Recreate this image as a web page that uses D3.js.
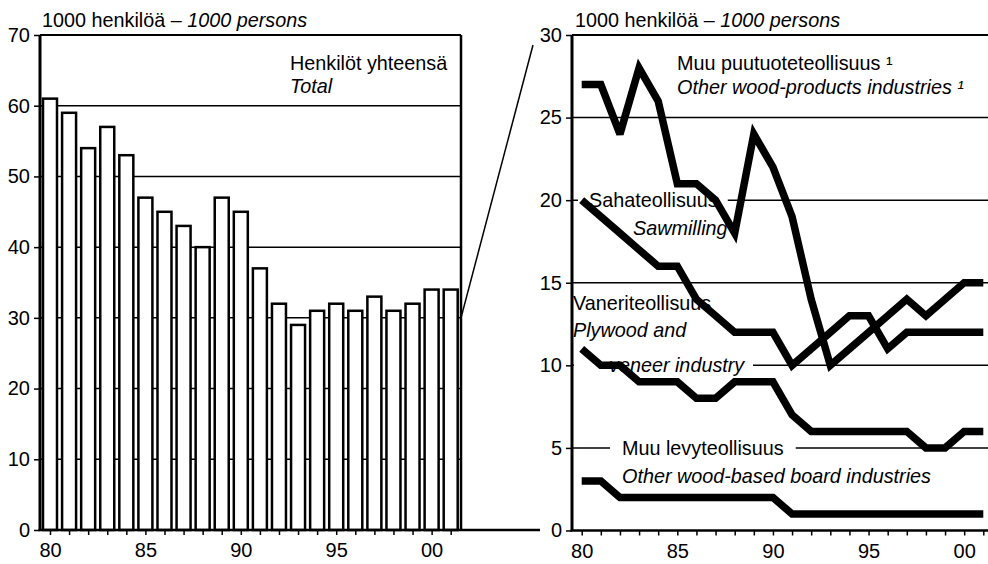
<!DOCTYPE html>
<html><head><meta charset="utf-8">
<script src="https://cdn.jsdelivr.net/npm/d3@7"></script>
<style>
html,body{margin:0;padding:0;background:#fff;}
svg{display:block;}
text{font-family:"Liberation Sans",Arial,sans-serif;fill:#000;}
</style></head>
<body>
<svg id="chart" width="988" height="564"></svg>
<script>
// ---- data ----
const years = d3.range(1980, 2002);
const totalPersons = [61,59,54,57,53,47,45,43,40,47,45,37,32,29,31,32,31,33,31,32,34,34];
const otherWoodProducts = [27,27,24,28,26,21,21,20,18,24,22,19,14,10,11,12,13,14,13,14,15,15];
const sawmilling = [20,19,18,17,16,16,14,13,12,12,12,10,11,12,13,13,11,12,12,12,12,12];
const plywood = [11,10,10,9,9,9,8,8,9,9,9,7,6,6,6,6,6,6,5,5,6,6];
const otherBoard = [3,3,2,2,2,2,2,2,2,2,2,1,1,1,1,1,1,1,1,1,1,1];
const leftTicks = [0,10,20,30,40,50,60,70];
const rightTicks = [0,5,10,15,20,25,30];
const xTickLabels = {1980:"80",1985:"85",1990:"90",1995:"95",2000:"00"};

const svg = d3.select("#chart");
const FS = 19.8;
const TFS = 20;

// ---- scales ----
const xL = d3.scaleLinear().domain([1980,2001]).range([50,450.7]);
const yL = d3.scaleLinear().domain([0,70]).range([530,35]);
const xR = d3.scaleLinear().domain([1980,2001]).range([581.7,983.3]);
const yR = d3.scaleLinear().domain([0,30]).range([530.5,35]);
const L0 = 40, L1 = 461, R0 = 572, R1 = 988;

// ---- left chart ----
const gL = svg.append("g");
gL.selectAll("line.grid").data(leftTicks.filter(t=>t>0&&t<70)).enter().append("line")
  .attr("x1",L0).attr("x2",L1).attr("y1",d=>yL(d)).attr("y2",d=>yL(d))
  .attr("stroke","#000").attr("stroke-width",1.5);
gL.append("line").attr("x1",L0).attr("x2",L1).attr("y1",yL(70)).attr("y2",yL(70)).attr("stroke","#000").attr("stroke-width",2);
gL.append("line").attr("x1",L1).attr("x2",L1).attr("y1",yL(70)).attr("y2",yL(0)).attr("stroke","#000").attr("stroke-width",2.5);
const bw = 14;
gL.selectAll("rect.bar").data(years).enter().append("rect")
  .attr("x",(d)=>xL(d)-bw/2).attr("width",bw)
  .attr("y",(d,i)=>yL(totalPersons[i])).attr("height",(d,i)=>yL(0)-yL(totalPersons[i]))
  .attr("fill","#fff").attr("stroke","#000").attr("stroke-width",2.5);
const axLY = d3.axisLeft(yL).tickValues(leftTicks).tickSize(6).tickPadding(4);
const gAxLY = gL.append("g").attr("transform",`translate(${L0},0)`).call(axLY);
const axLX = d3.axisBottom(xL).tickValues(years).tickSize(5).tickPadding(8).tickFormat(d=>xTickLabels[d]||"");
const gAxLX = gL.append("g").attr("transform",`translate(0,${yL(0)})`).call(axLX);
[gAxLY,gAxLX].forEach(g=>{
  g.select(".domain").remove();
  g.selectAll("line").attr("stroke","#000").attr("stroke-width",1.5);
  g.selectAll("text").style("font-size",TFS+"px").attr("fill","#000");
});
gL.append("line").attr("x1",L0).attr("x2",L0).attr("y1",yL(70)).attr("y2",yL(0)).attr("stroke","#000").attr("stroke-width",3);
gL.append("line").attr("x1",L0-1.5).attr("x2",540).attr("y1",yL(0)).attr("y2",yL(0)).attr("stroke","#000").attr("stroke-width",2.5);
gL.append("line").attr("x1",L1).attr("y1",yL(30)).attr("x2",533).attr("y2",45).attr("stroke","#000").attr("stroke-width",1.5);

function title(x,y){
  const t = svg.append("text").attr("x",x).attr("y",y).style("font-size",FS+"px");
  t.append("tspan").text("1000 henkilöä – ");
  t.append("tspan").style("font-style","italic").text("1000 persons");
}
title(42,27);
svg.append("text").attr("x",290).attr("y",70).style("font-size",FS+"px").text("Henkilöt yhteensä");
svg.append("text").attr("x",290).attr("y",93).style("font-size",FS+"px").style("font-style","italic").text("Total");

// ---- right chart ----
const gR = svg.append("g");
gR.selectAll("line.grid").data(rightTicks.filter(t=>t>0&&t<30)).enter().append("line")
  .attr("x1",R0).attr("x2",R1).attr("y1",d=>yR(d)).attr("y2",d=>yR(d))
  .attr("stroke","#000").attr("stroke-width",1.5);
gR.append("line").attr("x1",R0).attr("x2",R1).attr("y1",yR(30)).attr("y2",yR(30)).attr("stroke","#000").attr("stroke-width",2);
const axRY = d3.axisLeft(yR).tickValues(rightTicks).tickSize(6).tickPadding(4);
const gAxRY = gR.append("g").attr("transform",`translate(${R0},0)`).call(axRY);
const axRX = d3.axisBottom(xR).tickValues(years).tickSize(5).tickPadding(8).tickFormat(d=>xTickLabels[d]||"");
const gAxRX = gR.append("g").attr("transform",`translate(0,${yR(0)})`).call(axRX);
[gAxRY,gAxRX].forEach(g=>{
  g.select(".domain").remove();
  g.selectAll("line").attr("stroke","#000").attr("stroke-width",1.5);
  g.selectAll("text").style("font-size",TFS+"px").attr("fill","#000");
});
gR.append("line").attr("x1",R0).attr("x2",R0).attr("y1",yR(30)).attr("y2",yR(0)).attr("stroke","#000").attr("stroke-width",3);
gR.append("line").attr("x1",R0-1.5).attr("x2",R1).attr("y1",yR(0)).attr("y2",yR(0)).attr("stroke","#000").attr("stroke-width",2.5);

title(575,27);

const bgLayer = gR.append("g");
const txtLayer = gR.append("g");
function label(x,y,str,italic,knock){
  const t = txtLayer.append("text").attr("x",x).attr("y",y).style("font-size",FS+"px").text(str);
  if(italic) t.style("font-style","italic");
  if(knock){
    const b = t.node().getBBox();
    const x0 = knock[0]!=null?knock[0]:b.x-knock[2];
    const x1 = knock[1]!=null?knock[1]:b.x+b.width+knock[2];
    bgLayer.append("rect").attr("x",x0).attr("y",b.y+2)
      .attr("width",x1-x0).attr("height",b.height-4).attr("fill","#fff");
  }
  return t;
}
label(677,70,"Muu puutuoteteollisuus ¹",false);
label(677,94,"Other wood-products industries ¹",true);
label(589,207,"Sahateollisuus",false,[R0+6,null,10]);
label(633,235,"Sawmilling",true);
label(573,310,"Vaneriteollisuus",false);
label(573,337,"Plywood and",true);
label(609,372,"veneer industry",true,[R0+2,753,0]);
label(622,455,"Muu levyteollisuus",false,[null,null,12]);
label(622,483,"Other wood-based board industries",true);

const lineGen = (arr)=>d3.line().x((d,i)=>xR(years[i])).y(d=>yR(d))(arr);
[otherWoodProducts,sawmilling,plywood,otherBoard].forEach(arr=>{
  gR.append("path").attr("d",lineGen(arr)).attr("fill","none").attr("stroke","#000")
    .attr("stroke-width",7.5).attr("stroke-linejoin","miter").attr("stroke-miterlimit",3).attr("stroke-linecap","butt");
});
</script>
</body></html>
